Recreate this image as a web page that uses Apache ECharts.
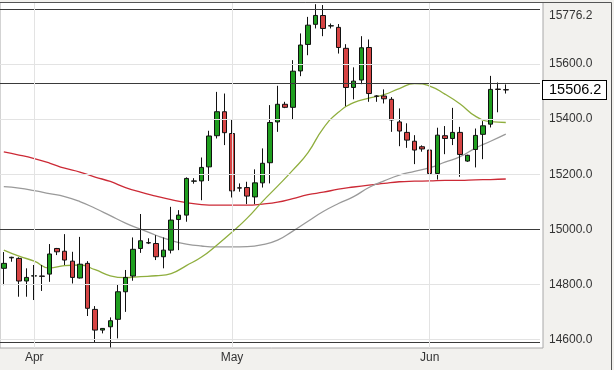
<!DOCTYPE html>
<html><head><meta charset="utf-8">
<script src="https://cdn.jsdelivr.net/npm/echarts@6/dist/echarts.min.js"></script>
<style>html,body{margin:0;padding:0;background:#f2f1ee;}#c{width:614px;height:370px;}</style>
</head><body><div id="c"></div>
<script>
// Candles (one per session)
const openV  = [14859,14897,14895,14813,14831,14831,14838,14931,14921,14885,14824,14877,14710,14635,14647,14674,14774,14831,14931,14951,14949,14901,14925,15036,15052,15175,15176,15227,15340,15427,15348,15151,15152,15118,15169,15242,15390,15454,15443,15575,15671,15744,15776,15738,15733,15657,15515,15542,15660,15484,15484,15472,15390,15352,15320,15300,15288,15203,15340,15330,15352,15248,15290,15345,15382,15509,15507];
const closeV = [14877,14899,14813,14826,14832,14830,14911,14919,14889,14826,14874,14714,14635,14641,14669,14774,14826,14928,14959,14952,14901,14925,15034,15052,15185,15176,15225,15339,15427,15351,15140,15150,15121,15169,15240,15388,15454,15443,15574,15669,15741,15776.2,15729,15739,15660,15515,15538,15659,15493,15483,15474,15397,15357,15324,15288,15292,15203,15342,15330,15352,15272,15269,15341,15376,15508,15508,15506.2];
const lowV   = [14798,14883,14756,14756,14744,14777,14810,14907,14871,14804,14822,14686,14589,14623,14572,14605,14701,14814,14915,14947,14889,14859,14913,14925,15028,15166,15106,15176,15330,15306,15116,15137,15092,15092,15152,15167,15354,15440,15397,15556,15632,15729,15701,15729,15638,15447,15472,15527,15463,15463,15457,15354,15302,15296,15237,15282,15173,15181,15273,15306,15191,15245,15225,15255,15370,15425,15493];
const highV  = [14918,14901,14899,14859,14871,14871,14947,14933,14983,14919,14973,14885,14722,14642,14681,14802,14853,14971,15056,14968,14979,14971,15082,15070,15189,15186,15261,15358,15499,15493,15397,15167,15173,15218,15294,15451,15521,15463,15614,15711,15771,15817,15814,15747,15745,15672,15588,15701,15689,15487,15508,15480,15439,15385,15342,15305,15303,15369,15375,15441,15372,15271,15366,15393,15557,15533,15526];

// Moving averages, sampled at every second session
const maIndex = [0,2,4,6,8,10,12,14,16,18,20,22,24,26,28,30,32,34,36,38,40,42,44,46,48,50,52,54,56,58,60,62,64,66];
const maGreen = [14925,14903,14885,14860,14869,14871,14854,14832,14825,14829,14832,14840,14869,14900,14943,14990,15041,15101,15157,15215,15279,15367,15425,15460,15476,15489,15511,15529,15520,15491,15455,15411,15391,15388];
const maGray  = [15155,15150,15141,15130,15119,15101,15077,15050,15023,15001,14979,14960,14947,14940,14937,14937,14938,14945,14961,14994,15030,15065,15094,15119,15152,15176,15197,15211,15224,15244,15264,15295,15320,15346];
const maRed   = [15281,15270,15257,15241,15222,15208,15190,15174,15152,15135,15121,15108,15097,15090,15088,15088,15088,15092,15099,15112,15126,15135,15146,15154,15161,15167,15173,15175,15176,15178,15178,15180,15181,15183];

// Axis ticks and levels
const monthIdx = [4, 30, 56];
const monthLbl = ['Apr', 'May', 'Jun'];
const yTicks = [14600, 14800, 15000, 15200, 15400, 15600];
const darkLevels = [14590, 15000, 15530, 15800];
const highClose = 15776.2;
const lastPrice = 15506.2;
const slotCount = 71;

const categories = Array.from({length: slotCount}, (_, i) => String(i));
const FONT = 'Liberation Sans, Arial, sans-serif';
const CLEAR = 'rgba(0,0,0,0)';

const ml = [];
yTicks.forEach(v => {
  ml.push({yAxis: v, lineStyle: {color: darkLevels.includes(v) ? '#3a3a3a' : '#e3e3e3', width: 1, type: 'solid'},
    label: {show: true, position: 'end', distance: 9, formatter: v.toFixed(1), color: '#333', fontSize: 12, fontFamily: FONT}});
});
darkLevels.filter(v => !yTicks.includes(v)).forEach(v => {
  ml.push({yAxis: v, lineStyle: {color: '#3a3a3a', width: 1, type: 'solid'}, label: {show: false}});
});
monthIdx.forEach(i => {
  ml.push({xAxis: i, lineStyle: {color: '#e3e3e3', width: 1, type: 'solid'}, label: {show: false}});
});
ml.push({yAxis: highClose, lineStyle: {color: CLEAR, width: 1, type: 'solid'}, label: {show: true, position: 'end', distance: 9, formatter: highClose.toFixed(1), color: '#333', fontSize: 12, fontFamily: FONT}});
ml.push({yAxis: lastPrice, lineStyle: {color: CLEAR, width: 1, type: 'solid'}, label: {show: true, position: 'end', distance: 3, formatter: lastPrice.toFixed(1), color: '#000', fontSize: 14.5, fontFamily: FONT,
  backgroundColor: '#fff', borderColor: '#000', borderWidth: 1, padding: [2, 4, 1, 6], width: 53, lineHeight: 15}});

const chart = echarts.init(document.getElementById('c'), null, {renderer: 'canvas'});
chart.setOption({
  animation: false,
  backgroundColor: '#f2f1ee',
  graphic: [
    {type: 'rect', z: -10, shape: {x: 0, y: 2.5, width: 543, height: 345.5}, style: {fill: '#fff', stroke: '#a8a8a8', lineWidth: 1}},
    {type: 'rect', z: 100, shape: {x: -1, y: 2.5, width: 612.5, height: 372}, style: {fill: 'none', stroke: '#555', lineWidth: 1}}
  ],
  grid: {left: 0, top: 2, width: 540, height: 346, containLabel: false},
  xAxis: {
    type: 'category', data: categories, boundaryGap: true,
    axisLine: {show: false}, axisTick: {show: false}, splitLine: {show: false},
    axisLabel: {
      interval: (i) => monthIdx.includes(i),
      formatter: (v, i) => { const p = monthIdx.indexOf(Number(v)); return p >= 0 ? monthLbl[p] : ''; },
      color: '#333', fontSize: 12, fontFamily: FONT, margin: 4
    }
  },
  yAxis: {
    type: 'value', min: 14570, max: 15825, position: 'right',
    axisLine: {show: false}, axisTick: {show: false}, axisLabel: {show: false}, splitLine: {show: false}
  },
  series: [
    {type: 'line', z: 1, data: maIndex.map((k, i) => [k, maRed[i]]), smooth: true, symbol: 'none', lineStyle: {color: '#cc2a36', width: 1.3}},
    {type: 'line', z: 1, data: maIndex.map((k, i) => [k, maGray[i]]), smooth: true, symbol: 'none', lineStyle: {color: '#9a9a9a', width: 1.3},
      markLine: {silent: true, symbol: ['none', 'none'], animation: false, data: ml}},
    {type: 'line', z: 1, data: maIndex.map((k, i) => [k, maGreen[i]]), smooth: true, symbol: 'none', lineStyle: {color: '#8fae3e', width: 1.3}},
    {type: 'candlestick', z: 3, barWidth: 5,
      data: openV.map((o, i) => [o, closeV[i], lowV[i], highV[i]]),
      itemStyle: {color: '#1f9e1f', color0: '#d64444', borderColor: '#111', borderColor0: '#111', borderColorDoji: '#111', borderWidth: 1}}
  ]
});
</script></body></html>
